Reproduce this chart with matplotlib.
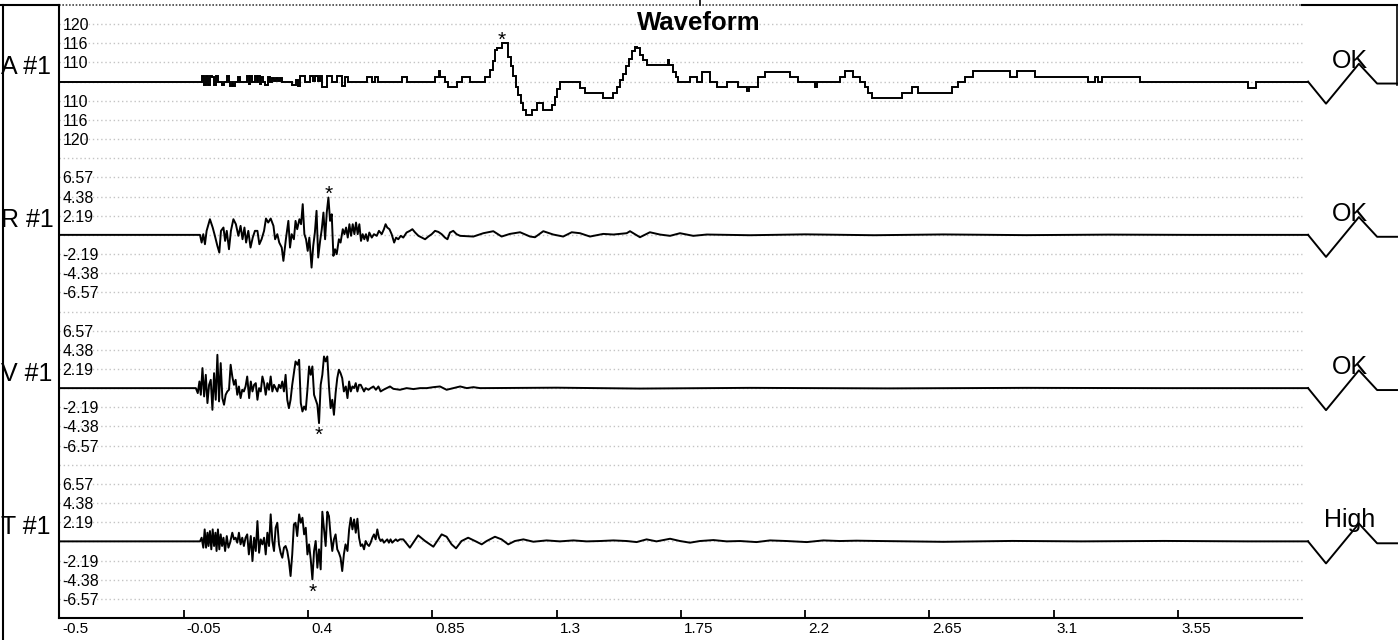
import matplotlib
matplotlib.use("Agg")
import matplotlib.pyplot as plt
import numpy as np
from matplotlib.lines import Line2D
from matplotlib.transforms import ScaledTranslation, blended_transform_factory

plt.rcParams['font.family'] = ['Liberation Sans', 'DejaVu Sans']

# channel names, status and grid labels
channels = ["A #1", "R #1", "V #1", "T #1"]
status = ["OK", "OK", "OK", "High"]
a_labels = ["120", "116", "110", "110", "116", "120"]
rvt_labels = ["6.57", "4.38", "2.19", "-2.19", "-4.38", "-6.57"]
rvt_step = 2.19
x_ticks = [-0.5, -0.05, 0.4, 0.85, 1.3, 1.75, 2.2, 2.65, 3.1, 3.55]
x_ticklabels = ["-0.5", "-0.05", "0.4", "0.85", "1.3", "1.75", "2.2", "2.65", "3.1", "3.55"]

# A trace: (time, level in grid steps), drawn as steps
a_trace = [
    (-0.5, 0), (0.016, 0.3), (0.024, -0.2), (0.031, 0.3), (0.038, -0.2), (0.045, 0.3), (0.053, 0.25),
    (0.060, -0.2), (0.067, 0.3), (0.074, 0), (0.089, -0.2), (0.096, 0), (0.107, 0.3), (0.114, 0),
    (0.118, -0.25), (0.125, 0), (0.129, -0.25), (0.136, 0), (0.147, 0.25), (0.154, 0), (0.179, 0.3),
    (0.186, -0.1), (0.190, 0.3), (0.197, 0), (0.208, 0.3), (0.215, 0), (0.219, 0.3), (0.226, -0.1),
    (0.230, 0.25), (0.237, 0), (0.244, -0.2), (0.255, 0.25), (0.263, 0), (0.270, 0.2), (0.277, 0.05),
    (0.284, 0.2), (0.291, 0.05), (0.299, 0.2), (0.306, 0), (0.342, -0.2), (0.357, 0.1), (0.364, -0.25),
    (0.371, 0.3), (0.389, 0), (0.407, 0.3), (0.418, 0.05), (0.425, 0.3), (0.436, 0.05), (0.444, 0.3),
    (0.451, -0.3), (0.469, 0.3), (0.487, 0), (0.505, 0.3), (0.523, -0.25), (0.534, 0.25), (0.545, 0),
    (0.614, 0.25), (0.632, 0), (0.643, 0.25), (0.654, 0), (0.740, 0.26), (0.758, 0), (0.860, 0.26),
    (0.874, 0.55), (0.878, 0.26), (0.896, 0), (0.907, -0.3), (0.940, 0), (0.958, 0.26), (0.987, 0),
    (1.041, 0.26), (1.059, 0.6), (1.070, 1.1), (1.077, 1.65), (1.084, 1.74), (1.103, 2.0), (1.124, 1.3),
    (1.135, 0.8), (1.142, 0.3), (1.153, -0.3), (1.160, -0.7), (1.171, -1.1), (1.179, -1.5), (1.189, -1.74),
    (1.211, -1.48), (1.229, -1.13), (1.251, -1.48), (1.284, -1.2), (1.294, -0.8), (1.302, -0.4), (1.313, 0),
    (1.385, -0.35), (1.403, -0.61), (1.468, -0.87), (1.504, -0.6), (1.519, -0.26), (1.530, 0.1), (1.541, 0.4),
    (1.551, 0.8), (1.562, 1.2), (1.573, 1.6), (1.584, 1.83), (1.591, 1.74), (1.602, 1.4), (1.613, 1.13),
    (1.628, 0.87), (1.704, 1.13), (1.707, 0.87), (1.722, 0.52), (1.733, 0.26), (1.740, 0), (1.783, 0.26),
    (1.809, 0), (1.827, 0.52), (1.856, 0), (1.881, -0.3), (1.917, 0), (1.957, -0.3), (1.990, -0.5),
    (1.997, -0.3), (2.029, 0.26), (2.055, 0.52), (2.145, 0.26), (2.174, 0), (2.236, -0.3), (2.243, 0),
    (2.326, 0.26), (2.344, 0.57), (2.373, 0.26), (2.399, 0), (2.417, -0.3), (2.428, -0.6), (2.442, -0.87),
    (2.551, -0.57), (2.587, -0.3), (2.609, -0.57), (2.732, -0.3), (2.754, 0), (2.779, 0.26), (2.808, 0.57),
    (2.942, 0.26), (2.967, 0.57), (3.032, 0.26), (3.224, 0), (3.250, 0.26), (3.260, 0), (3.275, 0.26),
    (3.413, 0), (3.804, -0.35), (3.833, 0), (4.021, 0),
]

r_trace = [
    (-0.5, 0), (0.009, 0), (0.015, -0.88), (0.021, 0.08), (0.027, -1.07), (0.033, 0.46), (0.045, 1.79),
    (0.055, 0.84), (0.063, -0.11), (0.072, -1.26), (0.079, -2.02), (0.085, 0.46), (0.094, 0.84),
    (0.100, -0.69), (0.106, 0.46), (0.114, -1.64), (0.121, 0.46), (0.130, 1.79), (0.139, 1.22),
    (0.148, -0.11), (0.156, 1.03), (0.163, -0.50), (0.170, 0.84), (0.176, -0.88), (0.184, 0.46),
    (0.192, -1.45), (0.200, -0.31), (0.208, 0.46), (0.217, 0.46), (0.224, -1.07), (0.232, -0.50),
    (0.241, 0.46), (0.248, 1.87), (0.256, 1.41), (0.265, 1.87), (0.275, 1.03), (0.281, -0.50),
    (0.289, 0.08), (0.296, -0.88), (0.305, -1.45), (0.311, -2.97), (0.320, -0.50), (0.329, 1.60),
    (0.335, -1.45), (0.341, 0.08), (0.349, -0.50), (0.355, 1.60), (0.361, 0.65), (0.369, 1.79),
    (0.375, 1.22), (0.381, 3.51), (0.387, 0.08), (0.393, -0.50), (0.399, -1.83), (0.405, -0.31),
    (0.413, -3.74), (0.419, -1.26), (0.425, 0.27), (0.431, 2.75), (0.437, -2.59), (0.444, -0.69),
    (0.450, 0.65), (0.456, 2.55), (0.462, -0.50), (0.468, 2.55), (0.474, 4.27), (0.480, 1.60),
    (0.486, 2.36), (0.492, -2.40), (0.498, -1.64), (0.504, -2.21), (0.512, -0.50), (0.518, -0.88),
    (0.526, 0.65), (0.532, 0.08), (0.538, 0.84), (0.544, -0.31), (0.550, 1.22), (0.556, -0.11),
    (0.562, 1.22), (0.568, 0.08), (0.574, 1.41), (0.580, 0.08), (0.586, 1.22), (0.592, -0.69),
    (0.598, 0.08), (0.604, -0.50), (0.610, 0.08), (0.616, -0.69), (0.622, 0.27), (0.631, -0.31),
    (0.639, 0.08), (0.649, -0.11), (0.657, 0.46), (0.667, 0.08), (0.675, 0.65), (0.681, 1.22),
    (0.687, 0.84), (0.695, 0.65), (0.703, 0.08), (0.712, -0.88), (0.719, -0.31), (0.727, -0.50),
    (0.736, -0.11), (0.745, -0.31), (0.757, 0.27), (0.769, 0.46), (0.778, 0.65), (0.788, 0.27),
    (0.800, -0.11), (0.812, -0.31), (0.824, -0.50), (0.836, -0.19), (0.848, 0.08), (0.860, 0.46),
    (0.872, 0.34), (0.884, 0.08), (0.896, -0.31), (0.905, -0.50), (0.914, 0.27), (0.926, 0.46),
    (0.938, 0.08), (0.951, -0.11), (0.999, -0.19), (1.035, 0.19), (1.071, 0.42), (1.101, -0.19),
    (1.131, 0.11), (1.168, 0.30), (1.204, -0.19), (1.222, -0.27), (1.252, 0.42), (1.288, 0.04),
    (1.324, -0.19), (1.355, 0.30), (1.385, 0.19), (1.421, -0.19), (1.469, 0.11), (1.506, 0.04),
    (1.554, 0.19), (1.566, 0.42), (1.602, -0.27), (1.638, 0.30), (1.674, 0.04), (1.711, -0.11),
    (1.747, 0.19), (1.795, -0.11), (1.844, 0.04), (2.0, -0.04), (2.2, 0.06), (2.45, -0.04),
    (2.7, 0.05), (3.0, -0.03), (3.3, 0.03), (3.6, 0), (4.021, 0),
]

v_trace = [
    (-0.5, 0), (-0.006, 0), (0.001, -0.57), (0.007, 0.76), (0.012, -0.76), (0.018, 2.29), (0.024, -0.95),
    (0.030, 1.52), (0.036, -1.71), (0.042, 0.38), (0.048, 0.95), (0.054, -2.48), (0.060, 1.71),
    (0.066, -1.33), (0.072, 3.81), (0.078, -1.52), (0.084, 2.86), (0.090, -1.14), (0.096, -1.90),
    (0.102, -0.76), (0.108, -0.38), (0.114, -0.19), (0.120, 2.67), (0.126, 1.33), (0.132, 0.38),
    (0.138, 0.95), (0.144, -0.76), (0.150, 0.19), (0.156, -1.14), (0.162, -0.19), (0.168, -0.38),
    (0.174, 0.19), (0.180, 1.33), (0.187, -1.14), (0.193, 0.76), (0.199, -0.38), (0.205, 0.38),
    (0.211, 0.57), (0.217, -1.33), (0.223, 0), (0.229, -0.38), (0.235, 1.33), (0.241, 0.57),
    (0.247, -0.76), (0.253, 0.57), (0.259, -0.19), (0.265, 1.33), (0.271, -0.38), (0.277, 0.38),
    (0.283, 0), (0.289, -0.38), (0.295, 0.38), (0.301, 0), (0.307, 0.76), (0.313, -0.38), (0.319, 1.52),
    (0.325, -1.33), (0.331, -2.29), (0.337, -1.33), (0.343, 0.38), (0.349, 1.71), (0.355, 3.05),
    (0.362, 2.67), (0.368, 3.24), (0.374, -1.71), (0.380, -2.67), (0.386, -2.10), (0.392, -2.48),
    (0.398, -0.19), (0.404, 2.48), (0.410, 1.52), (0.416, 2.48), (0.422, -0.76), (0.428, -1.33),
    (0.434, -1.90), (0.440, -4.00), (0.446, 0.38), (0.452, 1.52), (0.458, 3.62), (0.464, 3.05),
    (0.470, 3.62), (0.476, 0.19), (0.482, -2.29), (0.488, -1.33), (0.494, -3.05), (0.500, -0.57),
    (0.506, 1.14), (0.512, 2.10), (0.518, 1.71), (0.524, 1.14), (0.530, -0.38), (0.537, 0.19),
    (0.543, -1.14), (0.549, 0.76), (0.555, -0.38), (0.561, 0.19), (0.567, 0), (0.573, 0.57),
    (0.579, -0.38), (0.585, 0.38), (0.591, 0.38), (0.597, 0), (0.603, -0.38), (0.609, 0),
    (0.619, -0.19), (0.627, 0), (0.637, 0.19), (0.646, -0.19), (0.655, 0.19), (0.663, -0.38),
    (0.673, -0.19), (0.685, 0), (0.697, 0.19), (0.709, -0.08), (0.733, -0.19), (0.757, 0),
    (0.782, -0.11), (0.806, 0), (0.830, 0), (0.854, 0.11), (0.878, 0.19), (0.902, -0.19),
    (0.926, 0), (0.951, 0.19), (0.975, 0), (0.999, 0.11), (1.023, 0), (1.3, 0.05), (1.6, -0.05),
    (2.0, 0.03), (2.5, -0.03), (3.0, 0.03), (3.5, 0), (4.021, 0),
]

t_trace = [
    (-0.5, 0), (0.009, 0), (0.015, 0.42), (0.021, -0.72), (0.026, 1.37), (0.031, -0.72), (0.036, 0.99),
    (0.040, -0.53), (0.045, 1.18), (0.050, -0.91), (0.055, 1.37), (0.060, -0.53), (0.065, 0.99),
    (0.069, -1.10), (0.074, 1.37), (0.079, -0.91), (0.084, 0.80), (0.089, -0.53), (0.094, 0.42),
    (0.100, -1.10), (0.106, 0.61), (0.112, -0.72), (0.118, -0.15), (0.126, 0.99), (0.132, 0.23),
    (0.138, 0.42), (0.144, -0.15), (0.150, 0.99), (0.156, -0.34), (0.162, 0.42), (0.168, -0.53),
    (0.174, 0.42), (0.180, 0.80), (0.186, -1.49), (0.193, 0.61), (0.199, -2.25), (0.205, 0.42),
    (0.211, -1.10), (0.217, 2.32), (0.223, -1.30), (0.229, 0.23), (0.235, -0.34), (0.241, 0.42),
    (0.247, -1.49), (0.253, 0.99), (0.259, -0.53), (0.265, 3.09), (0.271, 0.04), (0.277, -1.10),
    (0.283, 1.56), (0.289, 2.13), (0.295, -0.34), (0.301, -1.30), (0.307, -1.87), (0.313, -0.72),
    (0.319, -0.53), (0.325, -1.10), (0.331, -2.25), (0.337, -3.96), (0.343, -1.49), (0.349, 1.94),
    (0.355, 2.13), (0.361, 0.61), (0.368, 3.09), (0.374, 2.13), (0.380, 2.70), (0.386, 0.80),
    (0.392, 1.56), (0.398, -1.49), (0.404, -0.34), (0.410, -2.06), (0.416, -4.34), (0.422, -1.10),
    (0.428, 0.04), (0.434, -3.01), (0.440, -0.91), (0.446, -3.20), (0.452, 3.39), (0.458, 1.37),
    (0.464, -0.53), (0.470, 3.39), (0.476, 2.89), (0.482, 0.61), (0.488, -1.10), (0.494, 0.23),
    (0.500, 0.80), (0.506, -0.91), (0.512, -1.30), (0.518, -1.87), (0.524, -3.39), (0.530, -1.49),
    (0.536, -0.34), (0.543, -1.10), (0.549, 1.37), (0.555, 2.70), (0.561, 1.37), (0.567, 2.51),
    (0.573, 0.99), (0.579, 2.59), (0.585, 0.42), (0.591, -0.53), (0.597, -0.34), (0.603, -0.91),
    (0.609, 0.04), (0.615, -0.34), (0.621, -0.53), (0.627, -0.15), (0.633, 0.42), (0.639, 0.80),
    (0.645, 0.23), (0.651, 1.37), (0.657, 0.42), (0.663, 0.04), (0.669, 0.23), (0.675, -0.15),
    (0.681, 0.04), (0.687, 0.23), (0.693, -0.15), (0.699, 0.23), (0.705, -0.15), (0.711, 0.04),
    (0.718, 0.23), (0.724, 0.04), (0.733, 0.23), (0.745, 0.23), (0.769, -0.72), (0.799, 0.69),
    (0.824, 0.04), (0.854, -0.61), (0.884, 0.80), (0.902, 0.53), (0.920, -0.34), (0.936, -0.80),
    (0.956, 0.04), (0.980, 0.42), (1.005, 0.04), (1.029, -0.34), (1.047, 0.04), (1.077, 0.53),
    (1.101, 0.23), (1.125, -0.34), (1.149, 0.04), (1.180, 0.23), (1.216, -0.04), (1.264, 0.11),
    (1.312, 0), (1.361, 0.11), (1.409, 0), (1.457, 0.04), (1.506, 0.11), (1.554, 0.04),
    (1.590, -0.08), (1.626, 0.23), (1.662, 0), (1.711, 0.30), (1.747, 0.04), (1.783, -0.15),
    (1.819, 0.04), (1.868, 0.15), (1.916, 0), (1.964, 0.04), (2.024, -0.08), (2.073, 0.11),
    (2.133, 0.04), (2.206, -0.08), (2.266, 0.11), (2.326, 0.04), (2.386, 0.08), (2.471, 0.04),
    (2.7, -0.05), (2.95, 0.05), (3.2, 0), (3.5, 0.05), (3.8, 0), (4.021, 0),
]

# status glyph after the trace end (time, grid steps)
status_t = [4.021, 4.086, 4.205, 4.271, 4.343]
status_lvl = [0, -1.15, 0.93, -0.1, -0.1]

W, H = 1398, 640
fig = plt.figure(figsize=(W / 100, H / 100), dpi=100)
ax = fig.add_axes([59.4 / W, 22 / H, (1397 - 59.4) / W, 613 / H])
ax.set_xlim(-0.5, 4.343)
ax.set_ylim(0, 32)

# dotted grid, stops at 4.0
ax.hlines(np.arange(1, 32), -0.5, 4.0, colors='#c4c4c4', linestyles=(0, (1, 2)), lw=1, zorder=0)
ax.hlines(32, -0.5, 4.0, colors='#444444', linestyles=(0, (1, 1)), lw=1.2, clip_on=False, zorder=0)

baselines = [28, 20, 12, 4]
traces = [a_trace, r_trace, v_trace, t_trace]
lw = 1.4

for k, (tr, base) in enumerate(zip(traces, baselines)):
    t = np.array([p[0] for p in tr])
    v = np.array([p[1] for p in tr])
    if k == 0:
        y = base + v
        ax.plot(t, y, color='black', lw=lw, drawstyle='steps-post', solid_joinstyle='miter')
    else:
        y = base + v / rvt_step
        ax.plot(t, y, color='black', lw=lw)
    ax.plot(status_t, base + np.array(status_lvl), color='black', lw=lw, clip_on=False)

    # peak marker
    if k in (0, 1):
        i = int(np.argmax(y)); dy = -1.8
    else:
        i = int(np.argmin(y)); dy = -13
    ax.annotate('*', xy=(t[i], y[i]), xytext=(0, dy), textcoords='offset points',
                ha='center', va='baseline', fontsize=15)

    # status text
    ax.text(4.173, base + 0.73, status[k], ha='center', va='baseline', fontsize=18)

    # channel label
    trans = blended_transform_factory(fig.transFigure, ax.transData)
    ax.text(1.0 / W, base + 0.39, channels[k], transform=trans, ha='left', va='baseline', fontsize=18)

# y tick labels inside the axis
ypos, ylab = [], []
for k, base in enumerate(baselines):
    labs = a_labels if k == 0 else rvt_labels
    for off, lab in zip([3, 2, 1, -1, -2, -3], labs):
        ypos.append(base + off)
        ylab.append(lab)
ax.set_yticks(ypos, ylab)
ax.tick_params(axis='y', length=0, pad=0, labelsize=11.5)
for lbl in ax.get_yticklabels():
    lbl.set_horizontalalignment('left')
    lbl.set_transform(lbl.get_transform() + ScaledTranslation(3 / 100, 0, fig.dpi_scale_trans))

ax.set_xticks(x_ticks, x_ticklabels)
ax.tick_params(axis='x', direction='in', length=5.8, width=1.3, pad=3, labelsize=11)
for lbl in ax.get_xticklabels():
    lbl.set_horizontalalignment('left')
    lbl.set_transform(lbl.get_transform() + ScaledTranslation(3 / 100, 0, fig.dpi_scale_trans))

for s in ['top', 'right']:
    ax.spines[s].set_visible(False)
ax.spines['left'].set_linewidth(1.5)
ax.spines['bottom'].set_linewidth(1.5)
ax.spines['bottom'].set_bounds(-0.5, 4.0)

fig.text(0.5, (H - 30) / H, "Waveform", ha='center', va='baseline', fontsize=18.5, fontweight='bold')

# outer frame
def fline(x0, y0, x1, y1, **kw):
    fig.add_artist(Line2D([x0 / W, x1 / W], [1 - y0 / H, 1 - y1 / H], color='black', **kw))

fline(2.5, 5, 2.5, 640, lw=1.5)
fline(0, 5, 59.4, 5, lw=1.5)
fline(1302, 5, 1398, 5, lw=1.5)
fline(1397, 5, 1397, 85, lw=1.2)
fline(700, 0, 700, 5, lw=1.2)

fig.savefig("out.png", dpi=100)
